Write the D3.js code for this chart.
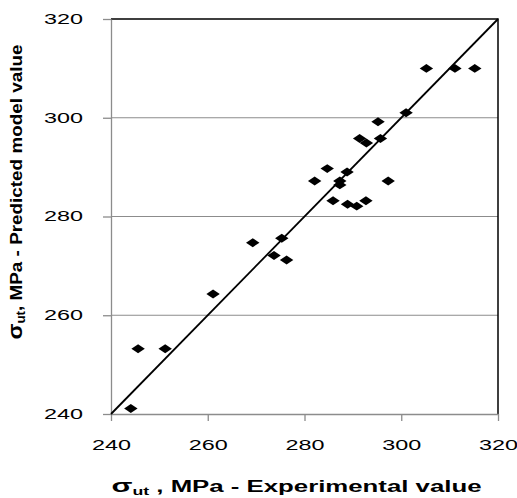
<!DOCTYPE html>
<html>
<head>
<meta charset="utf-8">
<script src="https://cdn.jsdelivr.net/npm/d3@7"></script>
<style>
  body { margin: 0; background: #fff; }
  svg { display: block; font-family: "Liberation Sans", Arial, sans-serif; }
  .tick text { font-size: 14px; fill: #000; }
</style>
</head>
<body>
<div id="chart"></div>
<script>
// experimental vs predicted sigma_ut (MPa)
let experimental = [244.1, 245.6, 251.2, 261.1, 269.3, 273.7, 275.3, 276.3, 282.1, 284.7,
                    285.9, 287.3, 287.3, 288.8, 288.9, 290.8, 291.4, 292.7, 292.8, 295.2,
                    295.7, 297.3, 301.0, 305.2, 311.1, 315.2];
let predicted    = [241.1, 253.2, 253.2, 264.3, 274.7, 272.1, 275.6, 271.2, 287.2, 289.7,
                    283.2, 287.2, 286.4, 289.0, 282.5, 282.1, 295.8, 283.2, 294.9, 299.2,
                    295.8, 287.2, 301.0, 310.0, 310.0, 310.0];
let tickValues = [240, 260, 280, 300, 320];
let gridValues = [260, 280, 300];
let fitLine = [240, 320];

let margin = {top: 19, right: 19, bottom: 84, left: 111}
    , width = 517 - margin.left - margin.right
    , height = 498 - margin.top - margin.bottom;

let svg = d3.select("#chart").append("svg")
    .attr("width", 517)
    .attr("height", 498)
    .append("g")
    .attr("transform", "translate(" + margin.left + "," + margin.top + ")");

let x = d3.scaleLinear().domain([240, 320]).range([0, width]),
    y = d3.scaleLinear().domain([240, 320]).range([height, 0]);

// gridlines
svg.selectAll(".grid")
    .data(gridValues)
    .enter().append("line")
    .attr("class", "grid")
    .attr("x1", 0).attr("x2", width)
    .attr("y1", function(d) { return y(d); })
    .attr("y2", function(d) { return y(d); })
    .attr("stroke", "#8c8c8c")
    .attr("stroke-width", 1.2);

// top/right border (plot area frame)
svg.append("path")
    .attr("d", "M0,0H" + width + "V" + height)
    .attr("fill", "none")
    .attr("stroke", "#000")
    .attr("stroke-width", 1.5);

let xAxis = svg.append("g")
    .attr("transform", "translate(0," + height + ")")
    .call(d3.axisBottom(x).tickValues(tickValues).tickSize(7).tickPadding(14).tickSizeOuter(0));

let yAxis = svg.append("g")
    .call(d3.axisLeft(y).tickValues(tickValues).tickSize(8).tickPadding(20).tickSizeOuter(0));

[xAxis, yAxis].forEach(function(a) {
    a.select(".domain").attr("stroke", "#8c8c8c").attr("stroke-width", 1.3);
    a.selectAll(".tick line").attr("stroke", "#8c8c8c").attr("stroke-width", 1.3);
    a.selectAll(".tick text")
        .attr("textLength", 39)
        .attr("lengthAdjust", "spacingAndGlyphs");
});
xAxis.selectAll(".tick text").attr("dy", "1.05em");

// 1:1 line
svg.append("line")
    .attr("x1", x(fitLine[0])).attr("y1", y(fitLine[0]))
    .attr("x2", x(fitLine[1])).attr("y2", y(fitLine[1]))
    .attr("stroke", "#000")
    .attr("stroke-width", 1.8);

// diamond markers (the picture is stretched horizontally)
let diamond = d3.symbol().type(d3.symbolSquare).size(40);
svg.selectAll(".dot")
    .data(experimental)
    .enter().append("path")
    .attr("class", "dot")
    .attr("d", diamond)
    .attr("transform", function(d, i) {
        return "translate(" + x(d) + "," + y(predicted[i]) + ") scale(1.5,1) rotate(45)";
    })
    .attr("fill", "#000");

// axis titles
let xt = svg.append("text")
    .attr("x", width / 2 - 8)
    .attr("y", height + 78)
    .attr("text-anchor", "middle")
    .attr("font-weight", "bold")
    .attr("font-size", "16px")
    .attr("textLength", 370)
    .attr("lengthAdjust", "spacingAndGlyphs");
xt.append("tspan").attr("font-size", "19px").text("σ");
xt.append("tspan").attr("font-size", "11px").attr("dy", 3).text("ut");
xt.append("tspan").attr("dy", -3).text(" , MPa - Experimental value");

let yt = svg.append("text")
    .attr("transform", "translate(" + (-margin.left + 22) + "," + (192 - margin.top) + ") rotate(-90)")
    .attr("text-anchor", "middle")
    .attr("font-weight", "bold")
    .attr("font-size", "17px")
    .attr("textLength", 295)
    .attr("lengthAdjust", "spacingAndGlyphs");
yt.append("tspan").attr("font-size", "21px").text("σ");
yt.append("tspan").attr("font-size", "12px").attr("dy", 3).text("ut");
yt.append("tspan").attr("dy", -3).text(", MPa - Predicted  model value");
</script>
</body>
</html>
